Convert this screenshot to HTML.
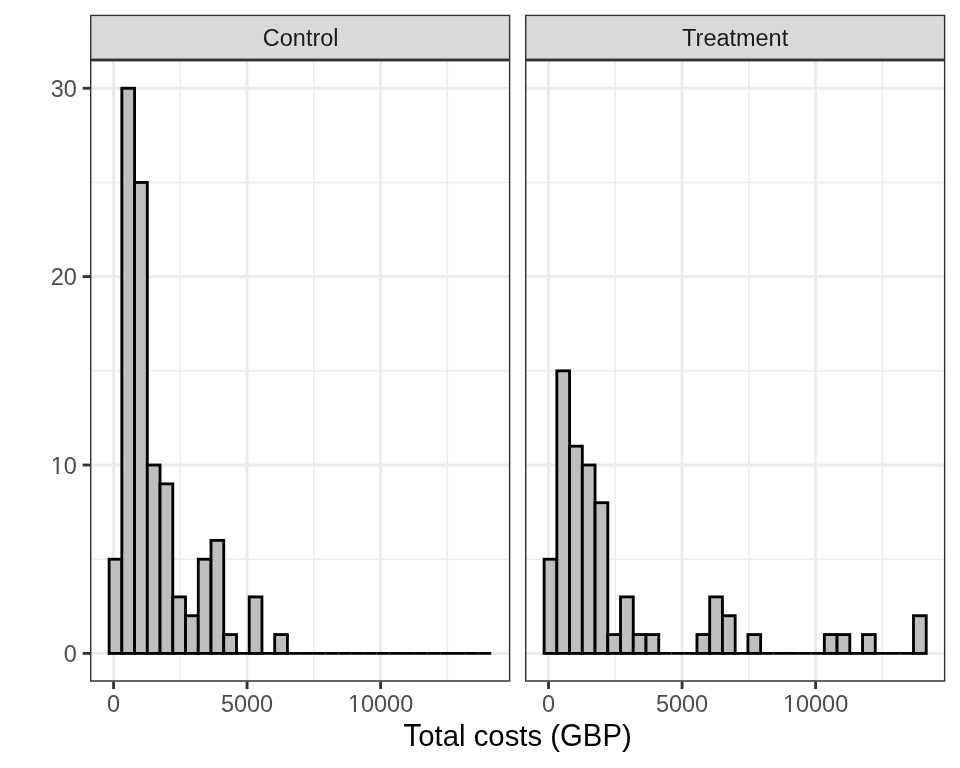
<!DOCTYPE html><html><head><meta charset="utf-8"><style>html,body{margin:0;padding:0;background:#fff;}svg{display:block;}text{font-family:"Liberation Sans",sans-serif;}svg{will-change:transform;}</style></head><body>
<svg width="960" height="768" viewBox="0 0 960 768">
<rect x="0" y="0" width="960" height="768" fill="#fff"/>
<defs>
<clipPath id="cp0"><rect x="90.000" y="60.000" width="420.333" height="621.667"/></clipPath>
<clipPath id="cs0"><rect x="90.000" y="14.667" width="420.333" height="45.333"/></clipPath>
<clipPath id="cp1"><rect x="525.000" y="60.000" width="420.333" height="621.667"/></clipPath>
<clipPath id="cs1"><rect x="525.000" y="14.667" width="420.333" height="45.333"/></clipPath>
</defs>
<g clip-path="url(#cp0)">
<line x1="180.312" y1="60.0" x2="180.312" y2="681.667" stroke="#EBEBEB" stroke-width="1.423"/>
<line x1="313.837" y1="60.0" x2="313.837" y2="681.667" stroke="#EBEBEB" stroke-width="1.423"/>
<line x1="447.363" y1="60.0" x2="447.363" y2="681.667" stroke="#EBEBEB" stroke-width="1.423"/>
<line x1="90.0" y1="559.217" x2="510.333" y2="559.217" stroke="#EBEBEB" stroke-width="1.423"/>
<line x1="90.0" y1="370.834" x2="510.333" y2="370.834" stroke="#EBEBEB" stroke-width="1.423"/>
<line x1="90.0" y1="182.450" x2="510.333" y2="182.450" stroke="#EBEBEB" stroke-width="1.423"/>
<line x1="113.550" y1="60.0" x2="113.550" y2="681.667" stroke="#EBEBEB" stroke-width="2.845"/>
<line x1="247.075" y1="60.0" x2="247.075" y2="681.667" stroke="#EBEBEB" stroke-width="2.845"/>
<line x1="380.600" y1="60.0" x2="380.600" y2="681.667" stroke="#EBEBEB" stroke-width="2.845"/>
<line x1="90.0" y1="653.409" x2="510.333" y2="653.409" stroke="#EBEBEB" stroke-width="2.845"/>
<line x1="90.0" y1="465.025" x2="510.333" y2="465.025" stroke="#EBEBEB" stroke-width="2.845"/>
<line x1="90.0" y1="276.642" x2="510.333" y2="276.642" stroke="#EBEBEB" stroke-width="2.845"/>
<line x1="90.0" y1="88.258" x2="510.333" y2="88.258" stroke="#EBEBEB" stroke-width="2.845"/>
<rect x="109.106" y="559.217" width="12.737" height="94.192" fill="#BEBEBE" stroke="#000" stroke-width="2.845" stroke-linejoin="miter" stroke-miterlimit="10"/>
<rect x="121.843" y="88.258" width="12.737" height="565.152" fill="#BEBEBE" stroke="#000" stroke-width="2.845" stroke-linejoin="miter" stroke-miterlimit="10"/>
<rect x="134.581" y="182.450" width="12.737" height="470.960" fill="#BEBEBE" stroke="#000" stroke-width="2.845" stroke-linejoin="miter" stroke-miterlimit="10"/>
<rect x="147.318" y="465.025" width="12.737" height="188.384" fill="#BEBEBE" stroke="#000" stroke-width="2.845" stroke-linejoin="miter" stroke-miterlimit="10"/>
<rect x="160.055" y="483.864" width="12.737" height="169.546" fill="#BEBEBE" stroke="#000" stroke-width="2.845" stroke-linejoin="miter" stroke-miterlimit="10"/>
<rect x="172.793" y="596.894" width="12.737" height="56.515" fill="#BEBEBE" stroke="#000" stroke-width="2.845" stroke-linejoin="miter" stroke-miterlimit="10"/>
<rect x="185.530" y="615.733" width="12.737" height="37.677" fill="#BEBEBE" stroke="#000" stroke-width="2.845" stroke-linejoin="miter" stroke-miterlimit="10"/>
<rect x="198.268" y="559.217" width="12.737" height="94.192" fill="#BEBEBE" stroke="#000" stroke-width="2.845" stroke-linejoin="miter" stroke-miterlimit="10"/>
<rect x="211.005" y="540.379" width="12.737" height="113.030" fill="#BEBEBE" stroke="#000" stroke-width="2.845" stroke-linejoin="miter" stroke-miterlimit="10"/>
<rect x="223.742" y="634.571" width="12.737" height="18.838" fill="#BEBEBE" stroke="#000" stroke-width="2.845" stroke-linejoin="miter" stroke-miterlimit="10"/>
<line x1="236.480" y1="653.409" x2="249.217" y2="653.409" stroke="#000" stroke-width="2.845"/>
<rect x="249.217" y="596.894" width="12.737" height="56.515" fill="#BEBEBE" stroke="#000" stroke-width="2.845" stroke-linejoin="miter" stroke-miterlimit="10"/>
<line x1="261.954" y1="653.409" x2="274.692" y2="653.409" stroke="#000" stroke-width="2.845"/>
<rect x="274.692" y="634.571" width="12.737" height="18.838" fill="#BEBEBE" stroke="#000" stroke-width="2.845" stroke-linejoin="miter" stroke-miterlimit="10"/>
<line x1="287.429" y1="653.409" x2="300.166" y2="653.409" stroke="#000" stroke-width="2.845"/>
<line x1="300.166" y1="653.409" x2="312.904" y2="653.409" stroke="#000" stroke-width="2.845"/>
<line x1="312.904" y1="653.409" x2="325.641" y2="653.409" stroke="#000" stroke-width="2.845"/>
<line x1="325.641" y1="653.409" x2="338.379" y2="653.409" stroke="#000" stroke-width="2.845"/>
<line x1="338.379" y1="653.409" x2="351.116" y2="653.409" stroke="#000" stroke-width="2.845"/>
<line x1="351.116" y1="653.409" x2="363.853" y2="653.409" stroke="#000" stroke-width="2.845"/>
<line x1="363.853" y1="653.409" x2="376.591" y2="653.409" stroke="#000" stroke-width="2.845"/>
<line x1="376.591" y1="653.409" x2="389.328" y2="653.409" stroke="#000" stroke-width="2.845"/>
<line x1="389.328" y1="653.409" x2="402.065" y2="653.409" stroke="#000" stroke-width="2.845"/>
<line x1="402.065" y1="653.409" x2="414.803" y2="653.409" stroke="#000" stroke-width="2.845"/>
<line x1="414.803" y1="653.409" x2="427.540" y2="653.409" stroke="#000" stroke-width="2.845"/>
<line x1="427.540" y1="653.409" x2="440.277" y2="653.409" stroke="#000" stroke-width="2.845"/>
<line x1="440.277" y1="653.409" x2="453.015" y2="653.409" stroke="#000" stroke-width="2.845"/>
<line x1="453.015" y1="653.409" x2="465.752" y2="653.409" stroke="#000" stroke-width="2.845"/>
<line x1="465.752" y1="653.409" x2="478.490" y2="653.409" stroke="#000" stroke-width="2.845"/>
<line x1="478.490" y1="653.409" x2="491.227" y2="653.409" stroke="#000" stroke-width="2.845"/>
<rect x="90.0" y="60.0" width="420.333" height="621.667" fill="none" stroke="#333333" stroke-width="2.845"/>
</g>
<g clip-path="url(#cs0)"><rect x="90.0" y="14.667" width="420.333" height="45.333" fill="#D9D9D9" stroke="#333333" stroke-width="2.845"/></g>
<text x="300.667" y="46.000" font-size="23.47" fill="#1A1A1A" text-anchor="middle">Control</text>
<line x1="113.550" y1="681.667" x2="113.550" y2="689.000" stroke="#333333" stroke-width="2.845"/>
<text x="113.550" y="712.000" font-size="23.47" fill="#4D4D4D" text-anchor="middle">0</text>
<line x1="247.075" y1="681.667" x2="247.075" y2="689.000" stroke="#333333" stroke-width="2.845"/>
<text x="247.075" y="712.000" font-size="23.47" fill="#4D4D4D" text-anchor="middle">5000</text>
<line x1="380.600" y1="681.667" x2="380.600" y2="689.000" stroke="#333333" stroke-width="2.845"/>
<text x="380.600" y="712.000" font-size="23.47" fill="#4D4D4D" text-anchor="middle">10000</text>
<g clip-path="url(#cp1)">
<line x1="615.312" y1="60.0" x2="615.312" y2="681.667" stroke="#EBEBEB" stroke-width="1.423"/>
<line x1="748.837" y1="60.0" x2="748.837" y2="681.667" stroke="#EBEBEB" stroke-width="1.423"/>
<line x1="882.362" y1="60.0" x2="882.362" y2="681.667" stroke="#EBEBEB" stroke-width="1.423"/>
<line x1="525.0" y1="559.217" x2="945.3330000000001" y2="559.217" stroke="#EBEBEB" stroke-width="1.423"/>
<line x1="525.0" y1="370.834" x2="945.3330000000001" y2="370.834" stroke="#EBEBEB" stroke-width="1.423"/>
<line x1="525.0" y1="182.450" x2="945.3330000000001" y2="182.450" stroke="#EBEBEB" stroke-width="1.423"/>
<line x1="548.550" y1="60.0" x2="548.550" y2="681.667" stroke="#EBEBEB" stroke-width="2.845"/>
<line x1="682.075" y1="60.0" x2="682.075" y2="681.667" stroke="#EBEBEB" stroke-width="2.845"/>
<line x1="815.600" y1="60.0" x2="815.600" y2="681.667" stroke="#EBEBEB" stroke-width="2.845"/>
<line x1="525.0" y1="653.409" x2="945.3330000000001" y2="653.409" stroke="#EBEBEB" stroke-width="2.845"/>
<line x1="525.0" y1="465.025" x2="945.3330000000001" y2="465.025" stroke="#EBEBEB" stroke-width="2.845"/>
<line x1="525.0" y1="276.642" x2="945.3330000000001" y2="276.642" stroke="#EBEBEB" stroke-width="2.845"/>
<line x1="525.0" y1="88.258" x2="945.3330000000001" y2="88.258" stroke="#EBEBEB" stroke-width="2.845"/>
<rect x="544.106" y="559.217" width="12.737" height="94.192" fill="#BEBEBE" stroke="#000" stroke-width="2.845" stroke-linejoin="miter" stroke-miterlimit="10"/>
<rect x="556.843" y="370.834" width="12.737" height="282.576" fill="#BEBEBE" stroke="#000" stroke-width="2.845" stroke-linejoin="miter" stroke-miterlimit="10"/>
<rect x="569.581" y="446.187" width="12.737" height="207.222" fill="#BEBEBE" stroke="#000" stroke-width="2.845" stroke-linejoin="miter" stroke-miterlimit="10"/>
<rect x="582.318" y="465.025" width="12.737" height="188.384" fill="#BEBEBE" stroke="#000" stroke-width="2.845" stroke-linejoin="miter" stroke-miterlimit="10"/>
<rect x="595.055" y="502.702" width="12.737" height="150.707" fill="#BEBEBE" stroke="#000" stroke-width="2.845" stroke-linejoin="miter" stroke-miterlimit="10"/>
<rect x="607.793" y="634.571" width="12.737" height="18.838" fill="#BEBEBE" stroke="#000" stroke-width="2.845" stroke-linejoin="miter" stroke-miterlimit="10"/>
<rect x="620.530" y="596.894" width="12.737" height="56.515" fill="#BEBEBE" stroke="#000" stroke-width="2.845" stroke-linejoin="miter" stroke-miterlimit="10"/>
<rect x="633.268" y="634.571" width="12.737" height="18.838" fill="#BEBEBE" stroke="#000" stroke-width="2.845" stroke-linejoin="miter" stroke-miterlimit="10"/>
<rect x="646.005" y="634.571" width="12.737" height="18.838" fill="#BEBEBE" stroke="#000" stroke-width="2.845" stroke-linejoin="miter" stroke-miterlimit="10"/>
<line x1="658.742" y1="653.409" x2="671.480" y2="653.409" stroke="#000" stroke-width="2.845"/>
<line x1="671.480" y1="653.409" x2="684.217" y2="653.409" stroke="#000" stroke-width="2.845"/>
<line x1="684.217" y1="653.409" x2="696.954" y2="653.409" stroke="#000" stroke-width="2.845"/>
<rect x="696.954" y="634.571" width="12.737" height="18.838" fill="#BEBEBE" stroke="#000" stroke-width="2.845" stroke-linejoin="miter" stroke-miterlimit="10"/>
<rect x="709.692" y="596.894" width="12.737" height="56.515" fill="#BEBEBE" stroke="#000" stroke-width="2.845" stroke-linejoin="miter" stroke-miterlimit="10"/>
<rect x="722.429" y="615.733" width="12.737" height="37.677" fill="#BEBEBE" stroke="#000" stroke-width="2.845" stroke-linejoin="miter" stroke-miterlimit="10"/>
<line x1="735.167" y1="653.409" x2="747.904" y2="653.409" stroke="#000" stroke-width="2.845"/>
<rect x="747.904" y="634.571" width="12.737" height="18.838" fill="#BEBEBE" stroke="#000" stroke-width="2.845" stroke-linejoin="miter" stroke-miterlimit="10"/>
<line x1="760.641" y1="653.409" x2="773.379" y2="653.409" stroke="#000" stroke-width="2.845"/>
<line x1="773.379" y1="653.409" x2="786.116" y2="653.409" stroke="#000" stroke-width="2.845"/>
<line x1="786.116" y1="653.409" x2="798.853" y2="653.409" stroke="#000" stroke-width="2.845"/>
<line x1="798.853" y1="653.409" x2="811.591" y2="653.409" stroke="#000" stroke-width="2.845"/>
<line x1="811.591" y1="653.409" x2="824.328" y2="653.409" stroke="#000" stroke-width="2.845"/>
<rect x="824.328" y="634.571" width="12.737" height="18.838" fill="#BEBEBE" stroke="#000" stroke-width="2.845" stroke-linejoin="miter" stroke-miterlimit="10"/>
<rect x="837.065" y="634.571" width="12.737" height="18.838" fill="#BEBEBE" stroke="#000" stroke-width="2.845" stroke-linejoin="miter" stroke-miterlimit="10"/>
<line x1="849.803" y1="653.409" x2="862.540" y2="653.409" stroke="#000" stroke-width="2.845"/>
<rect x="862.540" y="634.571" width="12.737" height="18.838" fill="#BEBEBE" stroke="#000" stroke-width="2.845" stroke-linejoin="miter" stroke-miterlimit="10"/>
<line x1="875.277" y1="653.409" x2="888.015" y2="653.409" stroke="#000" stroke-width="2.845"/>
<line x1="888.015" y1="653.409" x2="900.752" y2="653.409" stroke="#000" stroke-width="2.845"/>
<line x1="900.752" y1="653.409" x2="913.490" y2="653.409" stroke="#000" stroke-width="2.845"/>
<rect x="913.490" y="615.733" width="12.737" height="37.677" fill="#BEBEBE" stroke="#000" stroke-width="2.845" stroke-linejoin="miter" stroke-miterlimit="10"/>
<rect x="525.0" y="60.0" width="420.333" height="621.667" fill="none" stroke="#333333" stroke-width="2.845"/>
</g>
<g clip-path="url(#cs1)"><rect x="525.0" y="14.667" width="420.333" height="45.333" fill="#D9D9D9" stroke="#333333" stroke-width="2.845"/></g>
<text x="735.167" y="46.000" font-size="23.47" fill="#1A1A1A" text-anchor="middle">Treatment</text>
<line x1="548.550" y1="681.667" x2="548.550" y2="689.000" stroke="#333333" stroke-width="2.845"/>
<text x="548.550" y="712.000" font-size="23.47" fill="#4D4D4D" text-anchor="middle">0</text>
<line x1="682.075" y1="681.667" x2="682.075" y2="689.000" stroke="#333333" stroke-width="2.845"/>
<text x="682.075" y="712.000" font-size="23.47" fill="#4D4D4D" text-anchor="middle">5000</text>
<line x1="815.600" y1="681.667" x2="815.600" y2="689.000" stroke="#333333" stroke-width="2.845"/>
<text x="815.600" y="712.000" font-size="23.47" fill="#4D4D4D" text-anchor="middle">10000</text>
<line x1="82.667" y1="653.409" x2="90.0" y2="653.409" stroke="#333333" stroke-width="2.845"/>
<text x="76.800" y="662" font-size="23.47" fill="#4D4D4D" text-anchor="end">0</text>
<line x1="82.667" y1="465.025" x2="90.0" y2="465.025" stroke="#333333" stroke-width="2.845"/>
<text x="76.800" y="474" font-size="23.47" fill="#4D4D4D" text-anchor="end">10</text>
<line x1="82.667" y1="276.642" x2="90.0" y2="276.642" stroke="#333333" stroke-width="2.845"/>
<text x="76.800" y="285" font-size="23.47" fill="#4D4D4D" text-anchor="end">20</text>
<line x1="82.667" y1="88.258" x2="90.0" y2="88.258" stroke="#333333" stroke-width="2.845"/>
<text x="76.800" y="97" font-size="23.47" fill="#4D4D4D" text-anchor="end">30</text>
<rect x="51.278" y="471.700" width="5.314" height="3" fill="#fff"/>
<rect x="58.667" y="471.700" width="5.131" height="3" fill="#fff"/>
<rect x="348.555" y="709.700" width="5.314" height="3" fill="#fff"/>
<rect x="355.943" y="709.700" width="5.131" height="3" fill="#fff"/>
<rect x="783.555" y="709.700" width="5.314" height="3" fill="#fff"/>
<rect x="790.943" y="709.700" width="5.131" height="3" fill="#fff"/>
<text x="403.581" y="746" transform="translate(0 746) scale(1 1.1) translate(0 -746)" font-size="29.33" fill="#000" style="white-space:pre">T</text>
<text x="418.237" y="746" font-size="29.33" fill="#000" style="white-space:pre" xml:space="preserve">otal costs (</text>
<text x="560.034" y="746" transform="translate(0 746) scale(1 1.1) translate(0 -746)" font-size="29.33" fill="#000" style="white-space:pre">GBP</text>
<text x="621.972" y="746" font-size="29.33" fill="#000" style="white-space:pre" xml:space="preserve">)</text>
</svg></body></html>
